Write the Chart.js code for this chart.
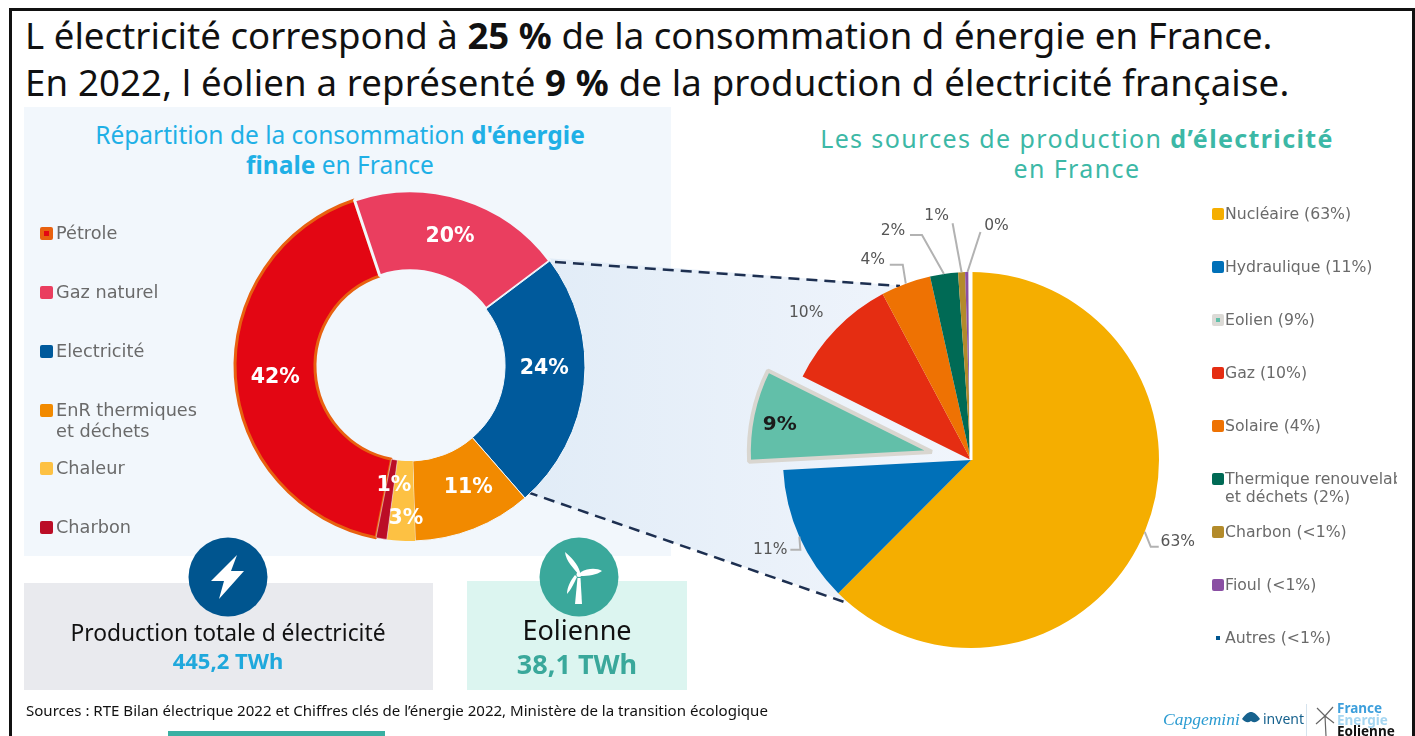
<!DOCTYPE html>
<html lang="fr">
<head>
<meta charset="utf-8">
<title>Electricité et éolien en France</title>
<script src="https://cdn.jsdelivr.net/npm/chart.js@4/dist/chart.umd.min.js"></script>
<style>
  html, body { margin: 0; padding: 0; background: #fff; }
  body { width: 1415px; height: 736px; position: relative; overflow: hidden; font-family: "Noto Sans", sans-serif; color: #111; }
  .abs { position: absolute; white-space: nowrap; }
  .frame { position: absolute; left: 9px; top: 8px; width: 1400px; height: 740px; border: 3px solid #111; box-sizing: content-box; }
  .headline { left: 25px; font-size: 36.6px; line-height: 47px; }
  .chart-title { text-align: center; line-height: 30px; }
  .ctr { transform: translateX(-50%); text-align: center; }
  canvas { position: absolute; }
  .legend-row { position: absolute; font-family: "DejaVu Sans", sans-serif; color: #6a6a6a; white-space: nowrap; overflow: hidden; }
  .swatch { position: absolute; border-radius: 2px; box-sizing: border-box; }
</style>
</head>
<body>
<div class="abs" style="left:24px;top:107px;width:647px;height:449px;background:#f2f7fc"></div>

<!-- zoom wedge between the two charts -->
<svg class="abs" style="left:0;top:0" width="1415" height="736">
  <defs>
    <linearGradient id="zoomFill" x1="0" x2="1" y1="0" y2="0">
      <stop offset="0" stop-color="#e1ecf7"/><stop offset="1" stop-color="#f1f5fc"/>
    </linearGradient>
  </defs>
  <polygon points="545,258 905,286 971,460 850,603 525,492" fill="url(#zoomFill)"/>
  <line x1="555" y1="262" x2="900" y2="286" stroke="#1d2f50" stroke-width="2.5" stroke-dasharray="11 7"/>
  <line x1="527" y1="492" x2="850" y2="604" stroke="#1d2f50" stroke-width="2.5" stroke-dasharray="11 7"/>
</svg>

<div class="frame"></div>
<div class="abs headline" style="top:12px;letter-spacing:.03px">L électricité correspond à <b>25 %</b> de la consommation d énergie en France.</div>
<div class="abs headline" style="top:59px;letter-spacing:.15px">En 2022, l éolien a représenté <b>9 %</b> de la production d électricité française.</div>

<div class="abs chart-title ctr" style="left:340px;top:120px;font-size:24.5px;color:#1fb0e6">Répartition de la consommation <b>d'énergie</b><br><b>finale</b> en France</div>
<div class="abs chart-title ctr" style="left:1077px;top:123px;font-size:25px;letter-spacing:1.38px;color:#3cb8a6">Les sources de production <b>d’électricité</b><br>en France</div>

<canvas id="donutChart" width="400" height="400" style="left:210px;top:166px;width:400px;height:400px"></canvas>
<canvas id="pieChart" width="540" height="540" style="left:701px;top:190px;width:540px;height:540px"></canvas>

<div id="legendLeft"></div>
<div id="legendRight"></div>

<!-- bottom key figures -->
<div class="abs" style="left:24px;top:583px;width:409px;height:107px;background:#e9eaee"></div>
<div class="abs" style="left:467px;top:581px;width:220px;height:109px;background:#dcf5f0"></div>
<svg class="abs" style="left:0;top:0" width="1415" height="736">
  <circle cx="228" cy="577" r="39.5" fill="#00558f"/>
  <path d="M237 555 L211 581 L224 581 L219 599 L244 571 L231 571 Z" fill="#fff"/>
  <circle cx="579" cy="577" r="39.5" fill="#3aa89b"/>
  <g fill="#fff">
    <path d="M575 604 L577.5 578 L580.5 578 L582 604 Z"/>
    <path d="M578 574 C574 568 566 562 565 552 C570 556 578 564 580 572 Z"/>
    <path d="M581 572 C588 568 597 568 602 571 C597 575 588 576 581 576 Z"/>
    <path d="M577 577 C574 583 571 590 567 594 C567 587 571 580 575 575 Z"/>
    <circle cx="579" cy="574.5" r="2.5"/>
  </g>
</svg>
<div class="abs ctr" style="left:228px;top:618px;font-size:22.8px;line-height:30px">Production totale d électricité</div>
<div class="abs ctr" style="left:228px;top:645px;font-size:22px;line-height:30px;font-weight:700;color:#1fa8dc">445,2 TWh</div>
<div class="abs ctr" style="left:577px;top:611px;font-size:27px;line-height:38px">Eolienne</div>
<div class="abs ctr" style="left:577px;top:645px;font-size:27px;line-height:38px;font-weight:700;color:#3aa89b">38,1 TWh</div>

<div class="abs" style="left:26px;top:700px;font-size:15.05px;line-height:20px">Sources : RTE Bilan électrique 2022 et Chiffres clés de l’énergie 2022, Ministère de la transition écologique</div>
<div class="abs" style="left:168px;top:731px;width:217px;height:5px;background:#3ab0a3"></div>

<!-- logos -->
<div class="abs" style="left:1163px;top:708px;font-family:'Liberation Serif',serif;font-style:italic;font-size:17.5px;line-height:22px;color:#2b9bd1">Capgemini</div>
<svg class="abs" style="left:1241px;top:711px" width="20" height="16"><path d="M1 8 C5 2 8 1 10 1 C12 1 15 2 19 8 C15 12 13 12 10 10 C7 12 5 12 1 8 Z" fill="#17628e"/></svg>
<div class="abs" style="left:1263px;top:709px;font-size:14px;line-height:20px;color:#17628e">invent</div>
<div class="abs" style="left:1306px;top:704px;width:1px;height:32px;background:#d5e3ee"></div>
<svg class="abs" style="left:1313px;top:704px" width="24" height="32"><g stroke="#666" stroke-width="1.2" fill="none"><path d="M12 12 L4 4 M12 12 L20 3 M12 12 L3 20 M12 12 L21 19 M12 12 L13 32"/></g></svg>
<div class="abs" style="left:1337px;top:703px;font-size:13.5px;line-height:11.5px;font-weight:700;color:#3d9fdc">France<br><span style="color:#a5d6f1">Energie</span><br><span style="color:#111">Eolienne</span></div>

<script>
// Donut: final energy consumption (Pétrole first so its neighbours draw over its border)
const donutLabels = ['Pétrole', 'Gaz naturel', 'Electricité', 'EnR thermiques', 'Chaleur', 'Charbon'];
const donutValues = [42, 20, 24, 11, 2.6, 1];
const donutColors = ['#e30613', '#ea3e5f', '#005a9c', '#f28a00', '#fdc143', '#bb0d26'];
const donutBorders = ['#e8610f', '#f2f7fc', '#f2f7fc', '#f2f7fc', '#fdc143', '#f2f7fc'];
const donutTexts = ['42%', '20%', '24%', '11%', '3%', '1%'];
const donutNudges = [[0, 3], [0, 0], [0, -11], [9, -4], [3, 18], [6, -14]];

// Pie: electricity sources
const pieLabels = ['Nucléaire', 'Hydraulique', 'Eolien', 'Gaz', 'Solaire', 'Thermique renouvelable et déchets', 'Charbon', 'Fioul', 'Autres'];
const pieValues = [62.6, 11.7, 8.2, 9.9, 4.3, 2.4, 0.6, 0.4, 0.1];
const pieColors = ['#f5ae00', '#0070b8', '#62bfa9', '#e52d12', '#ee7203', '#006a55', '#b38b2a', '#8a4fa3', '#00558f'];
const pieBorders = ['#f5ae00', '#0070b8', '#d9d6d0', '#e52d12', '#ee7203', '#006a55', '#b38b2a', '#8a4fa3', '#ffffff'];
const pieTexts = ['63%', '11%', '9%', '10%', '4%', '2%', '1%', '0%', ''];
const pieTextNudges = [[33, 10], [-29, 13], [-13, 2], [-30, -16], [-33, -24], [-51, -43], [-25, -56], [29, -46], [0, 0]];
const pieLeaders = [
    [[6, 15], [14, 15]], [[1, 13], [-9, 13]], [], [],
    [[-3, -19], [-16, -19]], [[-22, -39], [-34, -39]], [[-9, -49]], [[13, -40]], []
];

// Legends
const leftLegendRows = [
    { text: 'Pétrole', y: 233, color: '#e30613', border: '#e8610f', width: 4 },
    { text: 'Gaz naturel', y: 292, color: '#ea3e5f' },
    { text: 'Electricité', y: 351, color: '#005a9c' },
    { text: 'EnR thermiques<br>et déchets', y: 410, color: '#f28a00' },
    { text: 'Chaleur', y: 468, color: '#fdc143' },
    { text: 'Charbon', y: 527, color: '#bb0d26' }
];
const rightLegendRows = [
    { text: 'Nucléaire (63%)', y: 214, color: '#f5ae00' },
    { text: 'Hydraulique (11%)', y: 267, color: '#0070b8' },
    { text: 'Eolien (9%)', y: 320, color: '#62bfa9', border: '#dcdad6', width: 4 },
    { text: 'Gaz (10%)', y: 373, color: '#e52d12' },
    { text: 'Solaire (4%)', y: 426, color: '#ee7203' },
    { text: 'Thermique renouvelable<br>et déchets (2%)', y: 479, color: '#006a55' },
    { text: 'Charbon (<1%)', y: 532, color: '#b38b2a' },
    { text: 'Fioul (<1%)', y: 585, color: '#8a4fa3' },
    { text: 'Autres (<1%)', y: 638, color: '#00558f', border: '#ffffff', width: 4 }
];

function buildLegend(hostId, rows, swatchX, swatchSize, textX, textW, fontSize, lineH) {
    const host = document.getElementById(hostId);
    rows.forEach(r => {
        const s = document.createElement('div');
        s.className = 'swatch';
        s.style.cssText = `left:${swatchX}px;top:${r.y - swatchSize / 2}px;width:${swatchSize}px;height:${swatchSize}px;background:${r.color};`
            + (r.border ? `border:${r.width}px solid ${r.border};` : '');
        host.appendChild(s);
        const t = document.createElement('div');
        t.className = 'legend-row';
        t.style.cssText = `left:${textX}px;top:${r.y - lineH / 2}px;width:${textW}px;font-size:${fontSize}px;line-height:${lineH}px;`;
        t.innerHTML = r.text.replace('<1', '&lt;1');
        host.appendChild(t);
    });
}
buildLegend('legendLeft', leftLegendRows, 40, 13, 56, 170, 17.7, 21);
buildLegend('legendRight', rightLegendRows, 1212, 12, 1225, 172, 15.7, 18);

// Pulls the Eolien slice out of the pie, further than the library's offset option goes
const explodeSlice = {
    id: 'explodeSlice',
    afterDatasetsUpdate(chart, args, opts) {
        if (opts.index === undefined) return;
        const arc = chart.getDatasetMeta(0).data[opts.index];
        const mid = (arc.startAngle + arc.endAngle) / 2;
        arc.x += Math.cos(mid) * opts.distance;
        arc.y += Math.sin(mid) * opts.distance;
        arc.outerRadius = opts.radius;
    }
};

// Percent labels, and the elbow leader lines of the small slices
const sliceText = {
    id: 'sliceText',
    afterDatasetsDraw(chart, args, opts) {
        const { ctx } = chart;
        const arcs = chart.getDatasetMeta(0).data;
        ctx.save();
        ctx.textAlign = 'center';
        ctx.textBaseline = 'middle';
        arcs.forEach((arc, i) => {
            if (!opts.texts[i]) return;
            const mid = (arc.startAngle + arc.endAngle) / 2;
            const rr = opts.insideIndex === i ? opts.insideRadius : opts.radius;
            const ax = arc.x + Math.cos(mid) * rr;
            const ay = arc.y + Math.sin(mid) * rr;
            const leader = opts.leaders ? opts.leaders[i] : [];
            if (leader.length) {
                ctx.beginPath();
                ctx.moveTo(ax, ay);
                leader.forEach(p => ctx.lineTo(ax + p[0], ay + p[1]));
                ctx.strokeStyle = '#b2b2b2';
                ctx.lineWidth = 2;
                ctx.stroke();
            }
            ctx.font = opts.insideIndex === i ? opts.insideFont : opts.font;
            ctx.fillStyle = opts.insideIndex === i ? opts.insideColor : opts.color;
            ctx.fillText(opts.texts[i], ax + opts.nudges[i][0], ay + opts.nudges[i][1]);
        });
        ctx.restore();
    }
};

new Chart(document.getElementById('donutChart'), {
    type: 'doughnut',
    data: {
        labels: donutLabels,
        datasets: [{
            data: donutValues,
            backgroundColor: donutColors,
            borderColor: donutBorders,
            borderWidth: [3, 3, 1, 1, 0, 0.5]
        }]
    },
    options: {
        responsive: false,
        animation: false,
        rotation: -168.8,
        radius: 175,
        cutout: '54.3%',
        plugins: {
            legend: { display: false },
            tooltip: { enabled: false },
            sliceText: {
                texts: donutTexts,
                nudges: donutNudges,
                radius: 135,
                font: 'bold 20.5px "DejaVu Sans", sans-serif',
                color: '#ffffff'
            }
        }
    },
    plugins: [sliceText]
});

new Chart(document.getElementById('pieChart'), {
    type: 'pie',
    data: {
        labels: pieLabels,
        datasets: [{
            data: pieValues,
            backgroundColor: pieColors,
            borderColor: pieBorders,
            borderWidth: [0, 0, 4, 0, 0, 0, 0, 0, 3]
        }]
    },
    options: {
        responsive: false,
        animation: false,
        radius: 188,
        plugins: {
            legend: { display: false },
            tooltip: { enabled: false },
            explodeSlice: { index: 2, distance: 40, radius: 183 },
            sliceText: {
                texts: pieTexts,
                nudges: pieTextNudges,
                leaders: pieLeaders,
                radius: 188,
                font: '15.5px "DejaVu Sans", sans-serif',
                color: '#555555',
                insideIndex: 2,
                insideRadius: 142,
                insideFont: 'bold 20px "DejaVu Sans", sans-serif',
                insideColor: '#1b1b1b'
            }
        }
    },
    plugins: [explodeSlice, sliceText]
});
</script>
</body>
</html>
